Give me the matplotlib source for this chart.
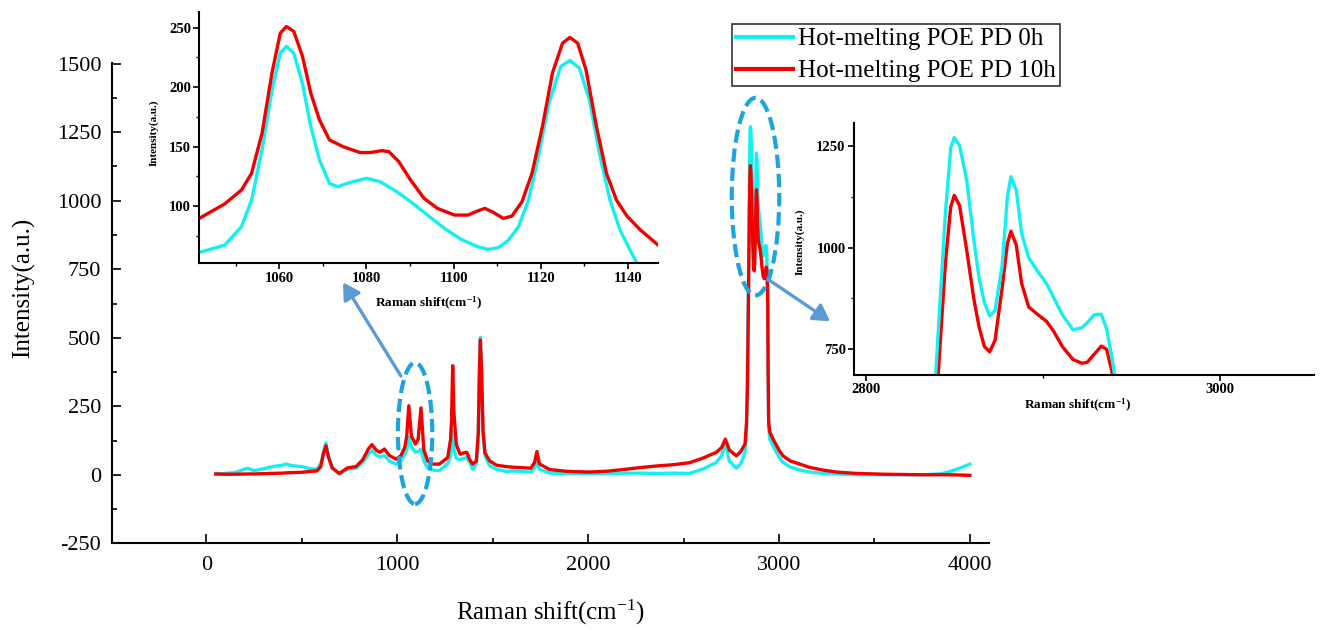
import matplotlib
matplotlib.use("Agg")
import matplotlib.pyplot as plt
from matplotlib.patches import Ellipse
from matplotlib.ticker import MultipleLocator

plt.rcParams['font.family'] = ['Liberation Serif', 'DejaVu Serif']
plt.rcParams['mathtext.fontset'] = 'custom'
plt.rcParams['mathtext.rm'] = 'Liberation Serif'
plt.rcParams['mathtext.it'] = 'Liberation Serif:italic'
plt.rcParams['mathtext.bf'] = 'Liberation Serif:bold'
plt.rcParams['axes.unicode_minus'] = False

# ---- full Raman spectra (cm-1, a.u.) ----
shift = [50, 100, 150, 200, 217, 250, 300, 350, 400, 418, 450, 500, 540, 580,
         600, 615, 627, 640, 660, 697, 740, 785, 820, 850, 868, 890, 910, 933,
         960, 994, 1020, 1040, 1050, 1061, 1075, 1096, 1110, 1125, 1140, 1160,
         1187, 1221, 1265, 1280, 1285, 1291, 1297, 1310, 1330, 1350, 1365, 1380,
         1396, 1415, 1425, 1432, 1436, 1442, 1450, 1460, 1484, 1520, 1571, 1600,
         1650, 1700, 1720, 1732, 1745, 1798, 1900, 2008, 2100, 2183, 2270, 2357,
         2450, 2532, 2602, 2672, 2700, 2719, 2740, 2777, 2800, 2822, 2830, 2835,
         2839, 2842, 2845, 2848, 2850, 2853, 2857, 2861, 2864, 2867, 2870, 2873,
         2877, 2880, 2882, 2885, 2888, 2892, 2897, 2902, 2906, 2911, 2917, 2922,
         2925, 2929, 2933, 2936, 2939, 2941, 2943, 2946, 2952, 2969, 3000, 3021,
         3060, 3109, 3160, 3231, 3300, 3406, 3550, 3755, 3850, 3895, 3950, 4000]

int_0h = [3, 5, 8, 20, 24, 15, 22, 30, 35, 39, 33, 30, 23, 20,
          40, 85, 116, 70, 25, 2, 20, 24, 45, 75, 88, 72, 65, 70,
          50, 39, 50, 75, 90, 136, 100, 82, 85, 94, 50, 25,
          17, 15, 40, 70, 90, 160, 100, 60, 55, 60, 63, 45,
          20, 40, 150, 420, 502, 380, 150, 70, 33, 20, 12, 14,
          12, 10, 25, 51, 20, 6, 5, 5, 5, 6, 6, 5,
          6, 5, 21, 45, 70, 118, 50, 24, 40, 82, 170, 380,
          650, 870, 1085, 1245, 1270, 1250, 1166, 1020, 925, 865, 832, 845,
          955, 1125, 1174, 1140, 1035, 975, 942, 912, 878, 835, 798, 803,
          815, 835, 836, 800, 730, 670, 400, 170, 130, 106, 65, 45,
          28, 17, 10, 5, 3, 0, 0, 0, 4, 12, 25, 39]

int_10h = [3, 2, 2, 3, 3, 3, 4, 5, 6, 7, 8, 9, 12, 14,
           30, 80, 106, 65, 25, 5, 25, 30, 55, 95, 110, 90, 82, 94,
           70, 57, 70, 100, 140, 252, 140, 112, 130, 244, 90, 50,
           39, 39, 63, 130, 200, 398, 230, 110, 75, 80, 82, 55,
           39, 50, 150, 410, 492, 380, 160, 80, 51, 35, 30, 28,
           26, 24, 45, 85, 40, 19, 12, 10, 13, 19, 26, 32,
           37, 44, 61, 82, 100, 130, 90, 69, 85, 112, 190, 330,
           560, 760, 962, 1100, 1128, 1103, 994, 875, 805, 757, 744, 772,
           900, 1010, 1040, 1006, 912, 854, 836, 819, 795, 757, 725, 716,
           718, 738, 758, 750, 695, 620, 380, 190, 155, 130, 90, 69,
           50, 39, 27, 17, 10, 5, 2, 0, 0, 0, -1, -2]

# ---- detailed scan of the 1040-1147 cm-1 band ----
detail_shift_0h = [1041.6, 1047.4, 1051.3, 1053.6, 1056.0, 1058.3, 1060.2, 1061.6,
                   1063.3, 1065.3, 1067.2, 1069.2, 1071.5, 1073.4, 1076.1, 1080.0,
                   1083.1, 1087.0, 1090.1, 1094.0, 1097.9, 1101.7, 1105.6, 1107.9,
                   1110.3, 1112.6, 1114.9, 1117.2, 1119.6, 1121.9, 1124.6, 1126.7,
                   1128.9, 1131.2, 1133.5, 1135.9, 1138.2, 1140.5, 1142.1, 1144.0]
detail_0h = [61, 67, 82.6, 105, 147, 197.8, 228.7, 234.3,
             228.7, 203, 167, 138.8, 119, 116.3, 119.7, 123.3,
             120.5, 112, 103.7, 92.4, 81.2, 72, 65.7, 63.5,
             65, 71.3, 82.6, 105, 144, 186.5, 217.4, 222.5,
             216, 189, 144, 105, 80, 63, 52, 45]

detail_shift_10h = [1041.6, 1047.4, 1051.3, 1053.6, 1056.0, 1058.3, 1060.2, 1061.6,
                    1063.3, 1065.3, 1067.2, 1069.2, 1071.5, 1074.6, 1078.5, 1080.8,
                    1083.5, 1085.1, 1087.4, 1090.1, 1093.2, 1096.3, 1100.2, 1103.3,
                    1105.6, 1107.2, 1109.1, 1111.4, 1113.4, 1115.7, 1118.0, 1120.4,
                    1122.7, 1125.0, 1126.7, 1128.5, 1130.4, 1132.8, 1135.1, 1137.4,
                    1139.8, 1142.9, 1147.0]
detail_10h = [89.6, 101.7, 113.5, 127.5, 161, 212, 245.5, 251,
              247, 226, 195, 172.5, 155.6, 150, 145, 145,
              146.6, 145.8, 137.4, 122, 106.5, 98, 92.4, 92.4,
              96, 98, 94.7, 89.6, 91.6, 103.6, 127.5, 167,
              212, 237, 241.9, 237, 214.6, 167, 127.5, 105,
              91.6, 79.8, 67]

series_labels = ["Hot-melting POE PD 0h", "Hot-melting POE PD 10h"]
c_0h = '#14F0F0'
c_10h = '#F20000'
ring_color = '#1BA3E2'
arrow_color = '#5B9BD5'

fig = plt.figure(figsize=(13.24, 6.31), dpi=100)

# ---- main spectrum ----
ax = fig.add_axes([0.0848, 0.1390, 0.6619, 0.7609])
l0, = ax.plot(shift, int_0h, color=c_0h, lw=2.4, solid_joinstyle='round')
l1, = ax.plot(shift, int_10h, color=c_10h, lw=2.4, solid_joinstyle='round')
ax.set_xlim(-492, 4098)
ax.set_ylim(-250, 1502)
for s in ('top', 'right'):
    ax.spines[s].set_visible(False)
for s in ('left', 'bottom'):
    ax.spines[s].set_linewidth(1.5)
ax.xaxis.set_major_locator(MultipleLocator(1000))
ax.xaxis.set_minor_locator(MultipleLocator(500))
ax.yaxis.set_major_locator(MultipleLocator(250))
ax.yaxis.set_minor_locator(MultipleLocator(125))
ax.tick_params(which='major', direction='in', length=6.5, width=1.2, labelsize=16)
ax.tick_params(which='minor', direction='in', length=3.8, width=1.2)
ax.tick_params(axis='x', which='major', pad=9)
ax.tick_params(axis='y', which='major', pad=8)
ax.set_xlabel('Raman shift(cm$^{-1}$)', fontsize=18)
ax.xaxis.set_label_coords(0.5, -0.143)
ax.xaxis.label.set_verticalalignment('center')
ax.set_ylabel('Intensity(a.u.)', fontsize=18)
ax.yaxis.set_label_coords(-0.1016, 0.531)
ax.yaxis.label.set_verticalalignment('center')

# dashed rings around the magnified bands
for (cx, cy, w, h) in [(1094, 151, 180, 515), (2877, 1015, 249, 721)]:
    ax.add_patch(Ellipse((cx, cy), w, h, fill=False, edgecolor=ring_color,
                         lw=3.0, linestyle=(0, (3.2, 1.4)), zorder=5))

# pointers to the magnified views
for tail, head in [((1020, 360), (717, 702)), ((2943, 713), (3268, 560))]:
    ax.annotate('', xy=head, xytext=tail,
                arrowprops=dict(arrowstyle='-|>,head_length=0.55,head_width=0.32',
                                color=arrow_color, lw=2.4, mutation_scale=18,
                                shrinkA=0, shrinkB=0), zorder=6)


def style_inset(a):
    for s in ('top', 'right'):
        a.spines[s].set_visible(False)
    for s in ('left', 'bottom'):
        a.spines[s].set_linewidth(1.5)
    a.tick_params(which='major', direction='out', length=4, width=1.2,
                  labelsize=10.5, pad=2)
    a.tick_params(which='minor', direction='out', length=2.5, width=1.0)
    for t in a.get_xticklabels() + a.get_yticklabels():
        t.set_fontweight('bold')


# ---- inset: 1040-1147 cm-1 ----
ax1 = fig.add_axes([0.1505, 0.5827, 0.3467, 0.3987])
ax1.plot(detail_shift_0h, detail_0h, color=c_0h, lw=2.4, solid_joinstyle='round')
ax1.plot(detail_shift_10h, detail_10h, color=c_10h, lw=2.4, solid_joinstyle='round')
ax1.set_xlim(1041.6, 1147)
ax1.set_ylim(51.8, 263.5)
ax1.xaxis.set_major_locator(MultipleLocator(20))
ax1.xaxis.set_minor_locator(MultipleLocator(10))
ax1.yaxis.set_major_locator(MultipleLocator(50))
ax1.yaxis.set_minor_locator(MultipleLocator(25))
style_inset(ax1)
ax1.set_xlabel('Raman shift(cm$^{\\mathbf{-1}}$)', fontsize=9.5, fontweight='bold')
ax1.xaxis.set_label_coords(0.4985, -0.158)
ax1.xaxis.label.set_verticalalignment('center')
ax1.set_ylabel('Intensity(a.u.)', fontsize=8, fontweight='bold')
ax1.yaxis.set_label_coords(-0.0985, 0.518)
ax1.yaxis.label.set_verticalalignment('center')

# ---- inset: C-H stretching region ----
ax2 = fig.add_axes([0.6450, 0.4057, 0.3474, 0.3989])
ax2.plot(shift, int_10h, color=c_10h, lw=2.4, solid_joinstyle='round')
ax2.plot(shift, int_0h, color=c_0h, lw=2.4, solid_joinstyle='round')
ax2.set_xlim(2793.4, 3053)
ax2.set_ylim(687, 1305)
ax2.xaxis.set_major_locator(MultipleLocator(200))
ax2.xaxis.set_minor_locator(MultipleLocator(100))
ax2.yaxis.set_major_locator(MultipleLocator(250))
ax2.yaxis.set_minor_locator(MultipleLocator(125))
style_inset(ax2)
ax2.set_xlabel('Raman shift(cm$^{\\mathbf{-1}}$)', fontsize=9.5, fontweight='bold')
ax2.xaxis.set_label_coords(0.485, -0.123)
ax2.xaxis.label.set_verticalalignment('center')
ax2.set_ylabel('Intensity(a.u.)', fontsize=8, fontweight='bold')
ax2.yaxis.set_label_coords(-0.117, 0.530)
ax2.yaxis.label.set_verticalalignment('center')

# ---- legend ----
leg = fig.legend([l0, l1], series_labels, loc='upper left',
                 bbox_to_anchor=(732 / 1324, 1 - 24 / 631), borderaxespad=0,
                 fontsize=18, frameon=True, fancybox=False, borderpad=0.15,
                 labelspacing=0.38, handlelength=2.3, handletextpad=0.2)
leg.get_frame().set_edgecolor('black')
leg.get_frame().set_linewidth(1.2)
for ln in leg.get_lines():
    ln.set_linewidth(3)

fig.savefig('out.png', dpi=100)
